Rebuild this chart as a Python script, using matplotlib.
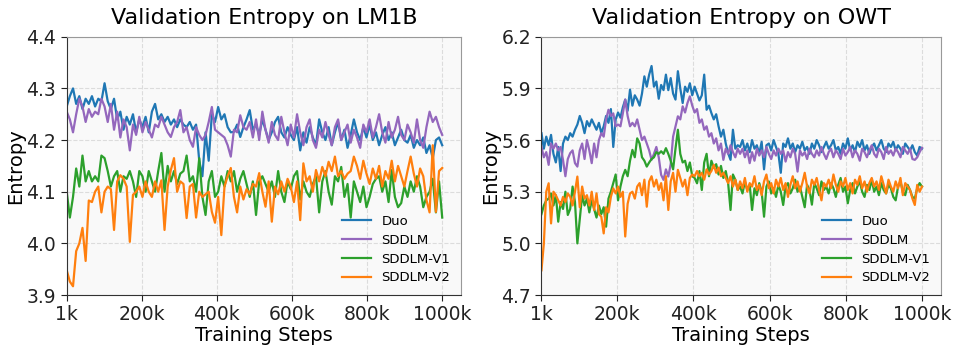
import numpy as np
import matplotlib
matplotlib.use("Agg")
import matplotlib.pyplot as plt

# ---------------- data: LM1B (validation entropy) ----------------
lm1b_duo = [
    4.265, 4.285, 4.30, 4.27, 4.285, 4.26, 4.28, 4.27, 4.285, 4.265, 4.28, 4.275,
    4.31, 4.275, 4.26, 4.28, 4.24, 4.255, 4.22, 4.245, 4.23, 4.25, 4.215, 4.24,
    4.225, 4.245, 4.215, 4.255, 4.27, 4.24, 4.25, 4.235, 4.245, 4.23, 4.24, 4.225,
    4.24, 4.23, 4.225, 4.235, 4.22, 4.23, 4.16, 4.13, 4.215, 4.16, 4.25, 4.235,
    4.264, 4.24, 4.25, 4.225, 4.215, 4.216, 4.23, 4.206, 4.225, 4.24, 4.258, 4.22,
    4.23, 4.21, 4.24, 4.22, 4.2, 4.215, 4.235, 4.245, 4.215, 4.205, 4.225, 4.21,
    4.2, 4.225, 4.18, 4.215, 4.195, 4.225, 4.205, 4.19, 4.24, 4.215, 4.2, 4.225,
    4.19, 4.215, 4.235, 4.2, 4.22, 4.185, 4.21, 4.24, 4.215, 4.2, 4.225, 4.205,
    4.23, 4.2, 4.215, 4.19, 4.21, 4.225, 4.2, 4.215, 4.19, 4.205, 4.22, 4.2,
    4.195, 4.21, 4.185, 4.2, 4.19, 4.205, 4.175, 4.19, 4.165, 4.2, 4.205, 4.19,
]
lm1b_sddlm = [
    4.255, 4.24, 4.215, 4.25, 4.28, 4.265, 4.235, 4.26, 4.245, 4.255, 4.25, 4.28,
    4.265, 4.235, 4.27, 4.22, 4.255, 4.205, 4.24, 4.225, 4.18, 4.23, 4.21, 4.245,
    4.215, 4.235, 4.22, 4.205, 4.23, 4.225, 4.245, 4.23, 4.215, 4.206, 4.225, 4.235,
    4.258, 4.215, 4.225, 4.20, 4.187, 4.225, 4.21, 4.2, 4.21, 4.235, 4.264, 4.22,
    4.215, 4.21, 4.205, 4.19, 4.168, 4.22, 4.215, 4.248, 4.225, 4.22, 4.235, 4.205,
    4.24, 4.2, 4.255, 4.22, 4.195, 4.235, 4.21, 4.2, 4.245, 4.215, 4.19, 4.23,
    4.205, 4.25, 4.215, 4.19, 4.225, 4.24, 4.2, 4.185, 4.22, 4.205, 4.235, 4.21,
    4.19, 4.225, 4.24, 4.2, 4.215, 4.23, 4.195, 4.22, 4.205, 4.185, 4.23, 4.215,
    4.24, 4.205, 4.225, 4.25, 4.215, 4.195, 4.235, 4.205, 4.22, 4.245, 4.21, 4.2,
    4.23, 4.215, 4.195, 4.24, 4.2, 4.185, 4.225, 4.255, 4.235, 4.245, 4.225, 4.21,
]
lm1b_v1 = [
    4.10, 4.05, 4.09, 4.145, 4.11, 4.17, 4.12, 4.14, 4.12, 4.13, 4.12, 4.17,
    4.165, 4.14, 4.11, 4.13, 4.14, 4.10, 4.13, 4.125, 4.14, 4.12, 4.09, 4.14,
    4.13, 4.10, 4.14, 4.12, 4.10, 4.14, 4.175, 4.10, 4.15, 4.12, 4.14, 4.115,
    4.135, 4.14, 4.17, 4.12, 4.13, 4.10, 4.165, 4.09, 4.055, 4.12, 4.14, 4.09,
    4.10, 4.13, 4.11, 4.14, 4.12, 4.14, 4.10, 4.125, 4.14, 4.115, 4.09, 4.12,
    4.055, 4.12, 4.13, 4.115, 4.10, 4.12, 4.09, 4.14, 4.10, 4.08, 4.12, 4.105,
    4.13, 4.14, 4.085, 4.12, 4.10, 4.09, 4.115, 4.13, 4.06, 4.12, 4.14, 4.10,
    4.075, 4.13, 4.12, 4.148, 4.09, 4.115, 4.05, 4.12, 4.10, 4.08, 4.11, 4.07,
    4.09, 4.115, 4.125, 4.13, 4.10, 4.12, 4.08, 4.142, 4.09, 4.07, 4.078, 4.11,
    4.09, 4.12, 4.10, 4.13, 4.11, 4.07, 4.09, 4.10, 4.125, 4.06, 4.12, 4.05,
]
lm1b_v2 = [
    3.948, 3.926, 3.917, 3.985, 4.00, 4.03, 3.966, 4.083, 4.08, 4.10, 4.11, 4.06,
    4.10, 4.11, 4.105, 4.026, 4.12, 4.132, 4.125, 4.11, 4.003, 4.094, 4.10, 4.11,
    4.09, 4.12, 4.10, 4.09, 4.12, 4.10, 4.122, 4.026, 4.11, 4.142, 4.165, 4.10,
    4.12, 4.115, 4.049, 4.11, 4.115, 4.05, 4.10, 4.09, 4.095, 4.10, 4.061, 4.04,
    4.09, 4.016, 4.11, 4.13, 4.146, 4.09, 4.06, 4.11, 4.085, 4.105, 4.095, 4.115,
    4.11, 4.136, 4.10, 4.071, 4.12, 4.042, 4.11, 4.095, 4.12, 4.10, 4.125, 4.11,
    4.08, 4.12, 4.045, 4.155, 4.12, 4.13, 4.10, 4.142, 4.12, 4.148, 4.13, 4.158,
    4.14, 4.168, 4.13, 4.14, 4.125, 4.135, 4.14, 4.168, 4.15, 4.125, 4.16, 4.135,
    4.115, 4.145, 4.125, 4.15, 4.11, 4.14, 4.125, 4.16, 4.12, 4.15, 4.13, 4.11,
    4.14, 4.168, 4.135, 4.11, 4.145, 4.13, 4.084, 4.06, 4.19, 4.061, 4.14, 4.146,
]

# ---------------- data: OWT (validation entropy) ----------------
owt_duo = [
    5.64, 5.55, 5.62, 5.57, 5.63, 5.52, 5.47, 5.56, 5.42, 5.58, 5.62, 5.60,
    5.64, 5.62, 5.66, 5.69, 5.74, 5.70, 5.64, 5.71, 5.68, 5.72, 5.69, 5.66,
    5.70, 5.64, 5.68, 5.74, 5.70, 5.78, 5.56, 5.72, 5.76, 5.73, 5.79, 5.835,
    5.77, 5.893, 5.80, 5.86, 5.835, 5.80, 5.87, 5.97, 5.91, 5.98, 6.03, 5.91,
    5.94, 5.84, 5.92, 5.89, 5.98, 5.89, 5.96, 5.87, 5.835, 6.00, 5.90, 5.815,
    5.91, 5.88, 5.93, 5.86, 5.91, 5.87, 5.83, 5.86, 5.98, 5.776, 5.80, 5.757,
    5.72, 5.75, 5.68, 5.62, 5.66, 5.58, 5.524, 5.485, 5.66, 5.55, 5.57,
    5.56, 5.60, 5.54, 5.58, 5.53, 5.60, 5.55, 5.57, 5.52, 5.59, 5.43, 5.57,
    5.58, 5.54, 5.60, 5.56, 5.52,
    5.41, 5.58, 5.56, 5.61, 5.55, 5.58, 5.53, 5.57, 5.55, 5.59, 5.54, 5.56,
    5.52, 5.58, 5.55, 5.60, 5.57, 5.53, 5.56, 5.59,
    5.55, 5.57, 5.60, 5.54, 5.56, 5.52, 5.58, 5.55, 5.61, 5.54, 5.57, 5.53,
    5.59, 5.56, 5.60, 5.54, 5.57, 5.52, 5.56, 5.58,
    5.54, 5.57, 5.60, 5.55, 5.53, 5.58, 5.56, 5.59, 5.54, 5.57, 5.55, 5.52,
    5.58, 5.56, 5.54, 5.57, 5.53, 5.51, 5.56, 5.55,
]
owt_sddlm = [
    5.56, 5.50, 5.53, 5.456, 5.58, 5.55, 5.58, 5.54, 5.56, 5.485, 5.39, 5.49,
    5.524, 5.54, 5.466, 5.446, 5.54, 5.58, 5.49, 5.60, 5.54, 5.466, 5.58, 5.50,
    5.60, 5.64, 5.62, 5.72, 5.776, 5.74, 5.755, 5.68, 5.69, 5.68, 5.755, 5.835,
    5.74, 5.68, 5.70, 5.68, 5.72, 5.66, 5.60, 5.62, 5.58, 5.54, 5.485, 5.52,
    5.56, 5.50, 5.398, 5.369, 5.43, 5.388, 5.46, 5.62, 5.68, 5.738, 5.72, 5.796,
    5.76, 5.815, 5.854, 5.80, 5.76, 5.78, 5.70, 5.72, 5.66, 5.68, 5.62, 5.64,
    5.58, 5.61, 5.54, 5.58, 5.485, 5.55, 5.52, 5.57, 5.53, 5.50, 5.55,
    5.52, 5.55, 5.50, 5.54, 5.466, 5.53, 5.48, 5.55, 5.51, 5.54, 5.50, 5.56,
    5.52, 5.49, 5.54, 5.51, 5.55,
    5.52, 5.54, 5.475, 5.53, 5.50, 5.55, 5.52, 5.417, 5.54, 5.51, 5.53, 5.49,
    5.55, 5.52, 5.50, 5.54, 5.51, 5.56, 5.52, 5.49,
    5.53, 5.55, 5.50, 5.54, 5.52, 5.49, 5.55, 5.51, 5.53, 5.56, 5.50, 5.54,
    5.52, 5.48, 5.55, 5.53, 5.50, 5.54, 5.57, 5.52,
    5.50, 5.55, 5.53, 5.49, 5.56, 5.52, 5.54, 5.51, 5.55, 5.53, 5.50, 5.56,
    5.54, 5.52, 5.55, 5.49, 5.485, 5.50, 5.53, 5.555,
]
owt_v1 = [
    5.17, 5.22, 5.25, 5.26, 5.29, 5.22, 5.28, 5.126, 5.24, 5.20, 5.30, 5.165,
    5.20, 5.33, 5.24, 5.00, 5.14, 5.28, 5.22, 5.26, 5.18, 5.25, 5.20, 5.15,
    5.22, 5.17, 5.21, 5.097, 5.26, 5.30, 5.35, 5.40, 5.25, 5.33, 5.39, 5.427,
    5.39, 5.48, 5.543, 5.50, 5.61, 5.58, 5.50, 5.48, 5.446, 5.47, 5.49, 5.50,
    5.53, 5.52, 5.535, 5.52, 5.553, 5.52, 5.48, 5.43, 5.55, 5.66, 5.52, 5.47,
    5.48, 5.42, 5.47, 5.39, 5.38, 5.349, 5.42, 5.31, 5.47, 5.52, 5.39, 5.48,
    5.44, 5.46, 5.40, 5.45, 5.38, 5.42, 5.35, 5.194, 5.40, 5.37, 5.31,
    5.33, 5.29, 5.36, 5.31, 5.34, 5.194, 5.32, 5.28, 5.35, 5.30, 5.155, 5.33,
    5.36, 5.29, 5.32, 5.27, 5.34,
    5.30, 5.223, 5.33, 5.35, 5.29, 5.32, 5.37, 5.30, 5.33, 5.27, 5.21, 5.34,
    5.31, 5.225, 5.35, 5.32, 5.28, 5.36, 5.31, 5.33,
    5.29, 5.35, 5.32, 5.27, 5.34, 5.38, 5.30, 5.33, 5.233, 5.31, 5.35, 5.29,
    5.33, 5.36, 5.30, 5.27, 5.34, 5.31, 5.37, 5.30,
    5.33, 5.28, 5.35, 5.31, 5.29, 5.34, 5.32, 5.27, 5.25, 5.33, 5.36, 5.30,
    5.28, 5.34, 5.31, 5.27, 5.26, 5.32, 5.35, 5.33,
]
owt_v2 = [
    4.844, 5.00, 5.30, 5.349, 5.116, 5.30, 5.28, 5.25, 5.22, 5.27, 5.24, 5.29,
    5.27, 5.22, 5.30, 5.388, 5.21, 5.33, 5.26, 5.28, 5.22, 5.30, 5.194, 5.29,
    5.17, 5.155, 5.058, 5.21, 5.18, 5.27, 5.32, 5.29, 5.33, 5.27, 5.30, 5.04,
    5.23, 5.29, 5.30, 5.26, 5.33, 5.35, 5.28, 5.37, 5.213, 5.36, 5.39, 5.33,
    5.37, 5.31, 5.35, 5.25, 5.39, 5.194, 5.36, 5.41, 5.30, 5.427, 5.38, 5.33,
    5.37, 5.28, 5.38, 5.40, 5.39, 5.42, 5.39, 5.41, 5.37, 5.43, 5.40, 5.42,
    5.456, 5.41, 5.44, 5.39, 5.41, 5.38, 5.35, 5.39, 5.33, 5.37, 5.31,
    5.36, 5.32, 5.38, 5.30, 5.35, 5.33, 5.39, 5.31, 5.34, 5.28, 5.36, 5.40,
    5.32, 5.35, 5.29, 5.37, 5.33,
    5.38, 5.31, 5.35, 5.27, 5.34, 5.39, 5.32, 5.36, 5.30, 5.35, 5.41, 5.33,
    5.29, 5.37, 5.34, 5.38, 5.31, 5.25, 5.35, 5.33,
    5.37, 5.32, 5.40, 5.34, 5.30, 5.36, 5.33, 5.38, 5.31, 5.35, 5.29, 5.37,
    5.34, 5.39, 5.32, 5.36, 5.30, 5.35, 5.38, 5.33,
    5.36, 5.31, 5.39, 5.34, 5.29, 5.37, 5.33, 5.30, 5.36, 5.32, 5.38, 5.28,
    5.35, 5.33, 5.31, 5.26, 5.223, 5.34, 5.30, 5.33,
]

series_names = ["Duo", "SDDLM", "SDDLM-V1", "SDDLM-V2"]
series_colors = ["#1f77b4", "#9467bd", "#2ca02c", "#ff7f0e"]
x_ticks = [1000, 200000, 400000, 600000, 800000, 1000000]
x_ticklabels = ["1k", "200k", "400k", "600k", "800k", "1000k"]

panels = [
    dict(title="Validation Entropy on LM1B", data=[lm1b_duo, lm1b_sddlm, lm1b_v1, lm1b_v2],
         yticks=[3.9, 4.0, 4.1, 4.2, 4.3, 4.4], ylim=(3.9, 4.4), ylabel="Entropy"),
    dict(title="Validation Entropy on OWT", data=[owt_duo, owt_sddlm, owt_v1, owt_v2],
         yticks=[4.7, 5.0, 5.3, 5.6, 5.9, 6.2], ylim=(4.7, 6.2), ylabel="Entropy"),
]

fig = plt.figure(figsize=(9.57, 3.5), dpi=100)
positions = [[0.0697, 0.157, 0.412, 0.738], [0.5658, 0.157, 0.4175, 0.738]]

for pos, p in zip(positions, panels):
    ax = fig.add_axes(pos)
    ax.set_facecolor("#f9f9f9")
    for y, name, c in zip(p["data"], series_names, series_colors):
        steps = np.linspace(1000, 1000000, len(y))
        ax.plot(steps, y, color=c, lw=1.6, label=name)
    ax.set_xlim(1000, 1000000 + 0.05 * 999000)
    ax.set_ylim(*p["ylim"])
    ax.set_xticks(x_ticks)
    ax.set_xticklabels(x_ticklabels)
    ax.set_yticks(p["yticks"])
    ax.set_yticklabels([f"{v:.1f}" for v in p["yticks"]])
    ax.tick_params(labelsize=13.5, length=4, width=0.8, colors="#222222")
    ax.grid(True, linestyle="--", color="#dcdcdc", lw=0.8)
    ax.set_axisbelow(True)
    for s in ["top", "right"]:
        ax.spines[s].set_color("#999999")
    for s in ["left", "bottom"]:
        ax.spines[s].set_color("#333333")
    ax.set_title(p["title"], fontsize=16, pad=9)
    ax.set_xlabel("Training Steps", fontsize=14, labelpad=1)
    ax.set_ylabel(p["ylabel"], fontsize=14, labelpad=1)
    ax.legend(loc="lower right", frameon=False, fontsize=9.5, handlelength=2.2,
              labelspacing=0.45, borderaxespad=0.4)

fig.savefig("out.png", dpi=100)
